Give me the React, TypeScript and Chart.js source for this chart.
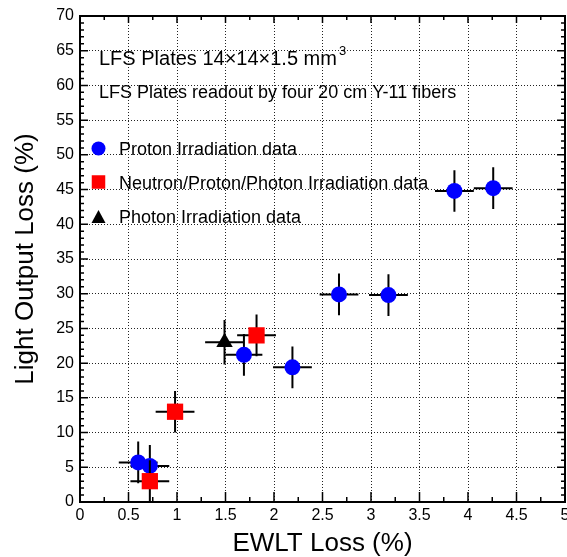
import React, { useEffect, useRef } from 'react';
import { Chart, registerables } from 'chart.js';

Chart.register(...registerables);

// ---- Data ----
const protonX = [0.6, 0.72, 1.69, 2.19, 2.67, 3.18, 3.86, 4.26];
const protonY = [5.7, 5.2, 21.2, 19.4, 29.9, 29.8, 44.8, 45.2];
const protonXErr = [0.2, 0.2, 0.19, 0.2, 0.2, 0.2, 0.2, 0.2];
const protonYErr = [3, 3, 3, 3, 3, 3, 3, 3];

const neutronX = [0.72, 0.98, 1.82];
const neutronY = [3.0, 13.0, 24.0];
const neutronXErr = [0.2, 0.2, 0.2];
const neutronYErr = [3, 3, 3];

const photonX = [1.49];
const photonY = [23.0];
const photonXErr = [0.2];
const photonYErr = [3.2];

const xTickLabels = ['0', '0.5', '1', '1.5', '2', '2.5', '3', '3.5', '4', '4.5', '5'];
const yTickLabels = ['0', '5', '10', '15', '20', '25', '30', '35', '40', '45', '50', '55', '60', '65', '70'];

const seriesNames = [
  'Proton Irradiation data',
  'Neutron/Proton/Photon Irradiation data',
  'Photon Irradiation data',
];
const noteLine1 = 'LFS Plates 14\u00d714\u00d71.5 mm';
const noteLine1Sup = '3';
const noteLine2 = 'LFS Plates readout by four 20 cm Y-11 fibers';
const xTitle = 'EWLT Loss (%)';
const yTitle = 'Light Output Loss (%)';

const X_MIN = 0, X_MAX = 5, X_STEP = 0.5, X_MINOR = 0.25;
const Y_MIN = 0, Y_MAX = 70, Y_STEP = 5, Y_MINOR = 1;

const FONT = "'Liberation Sans', Arial, Helvetica, sans-serif";
const BLUE = '#0000ff';
const RED = '#ff0000';
const BLACK = '#000000';

const ERRORS = [
  { xErr: protonXErr, yErr: protonYErr },
  { xErr: neutronXErr, yErr: neutronYErr },
  { xErr: photonXErr, yErr: photonYErr },
];

const toPoints = (xs: number[], ys: number[]) => xs.map((x, i) => ({ x, y: ys[i] }));

const errorBarPlugin = {
  id: 'errorBars',
  beforeDatasetDraw(chart: any, args: any) {
    const errs = ERRORS[args.index];
    if (!errs) return;
    const ds = chart.data.datasets[args.index];
    const xs = chart.scales.x, ys = chart.scales.y;
    const ctx = chart.ctx;
    ctx.save();
    ctx.strokeStyle = BLACK;
    ctx.lineWidth = 2;
    ds.data.forEach((p: any, i: number) => {
      const px = xs.getPixelForValue(p.x);
      const py = ys.getPixelForValue(p.y);
      const x1 = xs.getPixelForValue(p.x - errs.xErr[i]);
      const x2 = xs.getPixelForValue(p.x + errs.xErr[i]);
      const y1 = ys.getPixelForValue(Math.max(Y_MIN, p.y - errs.yErr[i]));
      const y2 = ys.getPixelForValue(p.y + errs.yErr[i]);
      ctx.beginPath();
      ctx.moveTo(x1, py);
      ctx.lineTo(x2, py);
      ctx.moveTo(px, y1);
      ctx.lineTo(px, y2);
      ctx.stroke();
    });
    ctx.restore();
  },
};

const framePlugin = {
  id: 'frame',
  afterDraw(chart: any) {
    const { ctx, chartArea: a } = chart;
    const xs = chart.scales.x, ys = chart.scales.y;
    ctx.save();
    ctx.strokeStyle = BLACK;
    ctx.lineWidth = 1.5;
    ctx.beginPath();
    const nX = Math.round((X_MAX - X_MIN) / X_MINOR);
    for (let i = 0; i <= nX; i++) {
      const v = X_MIN + i * X_MINOR;
      const major = Math.abs(v / X_STEP - Math.round(v / X_STEP)) < 1e-6;
      const len = major ? 10 : 5;
      const px = xs.getPixelForValue(v);
      ctx.moveTo(px, a.bottom);
      ctx.lineTo(px, a.bottom - len);
      ctx.moveTo(px, a.top);
      ctx.lineTo(px, a.top + (major ? 7 : 4));
    }
    const nY = Math.round((Y_MAX - Y_MIN) / Y_MINOR);
    for (let i = 0; i <= nY; i++) {
      const v = Y_MIN + i * Y_MINOR;
      const major = Math.abs(v / Y_STEP - Math.round(v / Y_STEP)) < 1e-6;
      const len = major ? 8 : 4;
      const py = ys.getPixelForValue(v);
      ctx.moveTo(a.left, py);
      ctx.lineTo(a.left + len, py);
      ctx.moveTo(a.right, py);
      ctx.lineTo(a.right - len, py);
    }
    ctx.stroke();
    ctx.lineWidth = 2;
    ctx.strokeRect(a.left, a.top, a.right - a.left, a.bottom - a.top);
    ctx.restore();
  },
};

const legendPlugin = {
  id: 'customLegend',
  afterDraw(chart: any) {
    const ctx = chart.ctx;
    ctx.save();
    ctx.fillStyle = BLACK;
    ctx.textAlign = 'left';
    ctx.textBaseline = 'alphabetic';
    ctx.font = `20px ${FONT}`;
    ctx.fillText(noteLine1, 99, 65);
    const w1 = ctx.measureText(noteLine1).width;
    ctx.font = `13px ${FONT}`;
    ctx.fillText(noteLine1Sup, 99 + w1 + 2, 55);
    ctx.font = `18px ${FONT}`;
    ctx.fillText(noteLine2, 99, 98);
    const mx = 98.5;
    const rows = [148.5, 182, 216.5];
    ctx.fillStyle = BLUE;
    ctx.beginPath();
    ctx.arc(mx, rows[0], 7, 0, Math.PI * 2);
    ctx.fill();
    ctx.fillStyle = RED;
    ctx.fillRect(mx - 6.75, rows[1] - 6.75, 13.5, 13.5);
    ctx.fillStyle = BLACK;
    ctx.beginPath();
    ctx.moveTo(mx, rows[2] - 6.5);
    ctx.lineTo(mx + 7, rows[2] + 6.5);
    ctx.lineTo(mx - 7, rows[2] + 6.5);
    ctx.closePath();
    ctx.fill();
    ctx.fillStyle = BLACK;
    ctx.font = `18px ${FONT}`;
    seriesNames.forEach((name, i) => {
      ctx.fillText(name, 119, rows[i] + 6.5);
    });
    ctx.restore();
  },
};

export default function App() {
  const ref = useRef<HTMLCanvasElement>(null);
  useEffect(() => {
    const canvas = ref.current;
    if (!canvas) return;
    const chart = new Chart(canvas, {
      type: 'scatter',
      data: {
        datasets: [
          {
            label: seriesNames[0],
            data: toPoints(protonX, protonY),
            pointStyle: 'circle',
            pointRadius: 8,
            backgroundColor: BLUE,
            borderWidth: 0,
            order: 3,
          },
          {
            label: seriesNames[1],
            data: toPoints(neutronX, neutronY),
            pointStyle: 'rect',
            pointRadius: 11.5,
            backgroundColor: RED,
            borderWidth: 0,
            order: 2,
          },
          {
            label: seriesNames[2],
            data: toPoints(photonX, photonY),
            pointStyle: 'triangle',
            pointRadius: 9.5,
            backgroundColor: BLACK,
            borderWidth: 0,
            order: 1,
          },
        ] as any,
      },
      options: {
        responsive: false,
        animation: false,
        events: [],
        layout: { autoPadding: false, padding: { top: 16, right: 2, bottom: 0, left: 0 } },
        plugins: {
          legend: { display: false },
          tooltip: { enabled: false },
          title: { display: false },
        },
        scales: {
          x: {
            type: 'linear',
            min: X_MIN,
            max: X_MAX,
            ticks: {
              stepSize: X_STEP,
              autoSkip: false,
              maxRotation: 0,
              padding: 4,
              color: BLACK,
              font: { family: FONT, size: 16 },
              callback: (_v: any, i: number) => xTickLabels[i],
            },
            grid: { color: '#222', lineWidth: 1, drawTicks: false },
            border: { display: false, dash: [1, 2] },
            title: {
              display: true,
              text: xTitle,
              color: BLACK,
              font: { family: FONT, size: 26, lineHeight: 1 },
              padding: { top: 0, bottom: 0 },
            },
            afterFit: (s: any) => {
              s.height = 55;
              s.paddingLeft = 0;
              s.paddingRight = 0;
            },
          },
          y: {
            type: 'linear',
            min: Y_MIN,
            max: Y_MAX,
            ticks: {
              stepSize: Y_STEP,
              autoSkip: false,
              padding: 6,
              color: BLACK,
              font: { family: FONT, size: 16 },
              callback: (_v: any, i: number) => yTickLabels[i],
            },
            grid: { color: '#222', lineWidth: 1, drawTicks: false },
            border: { display: false, dash: [1, 2] },
            title: {
              display: true,
              text: yTitle,
              color: BLACK,
              font: { family: FONT, size: 26, lineHeight: 1 },
              padding: { top: 13, bottom: 0 },
            },
            afterFit: (s: any) => {
              s.width = 80;
              s.paddingTop = 0;
              s.paddingBottom = 0;
            },
          },
        },
      } as any,
      plugins: [errorBarPlugin, framePlugin, legendPlugin],
    });
    return () => chart.destroy();
  }, []);
  return (
    <div style={{ position: 'fixed', left: 0, top: 0, width: 567, height: 557, background: '#fff' }}>
      <canvas ref={ref} width={567} height={557} style={{ display: 'block', width: 567, height: 557 }} />
    </div>
  );
}
